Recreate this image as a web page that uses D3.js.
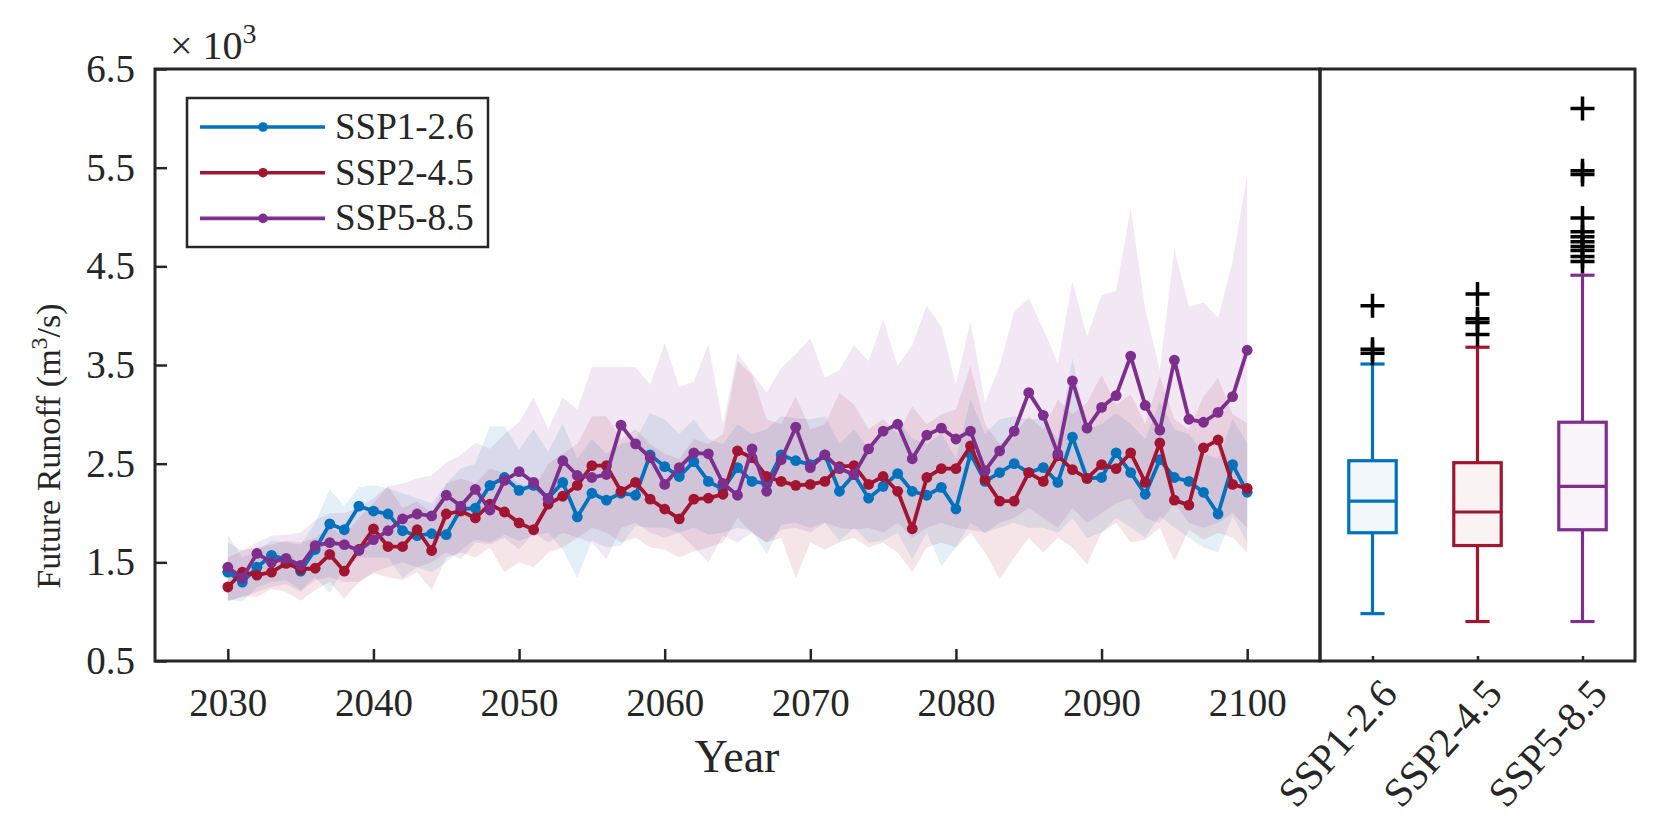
<!DOCTYPE html>
<html>
<head>
<meta charset="utf-8">
<script src="https://cdn.jsdelivr.net/npm/d3@7"></script>
<style>
  body { margin: 0; background: #fff; }
  text { font-family: "Liberation Serif", "Times New Roman", serif; fill: #262626; }
</style>
</head>
<body>
<svg id="chart" width="1656" height="834"></svg>
<script>
// ---- data (x 10^3 m3/s) ----
const years = d3.range(2030, 2101);
const seriesNames = ['SSP1-2.6', 'SSP2-4.5', 'SSP5-8.5'];
const seriesColors = ['#0072BD', '#A2142F', '#7E2F8E'];

const ssp126 = [1.40,1.30,1.45,1.57,1.53,1.41,1.63,1.89,1.83,2.07,
  2.02,1.99,1.82,1.77,1.79,1.78,2.04,2.05,2.28,2.36,
  2.23,2.28,2.15,2.31,1.96,2.20,2.13,2.20,2.18,2.59,
  2.47,2.37,2.52,2.32,2.24,2.46,2.32,2.30,2.59,2.53,
  2.49,2.59,2.22,2.39,2.15,2.27,2.40,2.22,2.18,2.26,
  2.04,2.60,2.32,2.41,2.50,2.41,2.46,2.31,2.77,2.35,
  2.36,2.61,2.41,2.19,2.54,2.36,2.32,2.21,1.99,2.49,
  2.21];
const ssp245 = [1.25,1.40,1.37,1.40,1.49,1.43,1.44,1.58,1.41,1.63,
  1.84,1.66,1.66,1.83,1.62,1.99,2.02,1.95,2.09,2.01,
  1.90,1.83,2.09,2.17,2.28,2.48,2.48,2.22,2.31,2.14,
  2.04,1.94,2.14,2.15,2.19,2.63,2.56,2.37,2.32,2.28,
  2.29,2.32,2.47,2.48,2.29,2.37,2.22,1.84,2.36,2.45,
  2.45,2.68,2.34,2.12,2.12,2.41,2.32,2.58,2.44,2.35,
  2.49,2.45,2.61,2.31,2.71,2.13,2.08,2.66,2.74,2.29,
  2.25];
const ssp585 = [1.45,1.34,1.59,1.50,1.54,1.47,1.67,1.70,1.68,1.62,
  1.73,1.82,1.94,1.99,1.97,2.18,2.07,2.24,2.03,2.33,
  2.42,2.31,2.14,2.53,2.38,2.36,2.39,2.89,2.70,2.56,
  2.29,2.46,2.61,2.60,2.30,2.18,2.65,2.22,2.54,2.87,
  2.46,2.59,2.45,2.39,2.65,2.83,2.90,2.55,2.79,2.86,
  2.75,2.83,2.43,2.63,2.83,3.22,2.99,2.60,3.34,2.86,
  3.07,3.19,3.59,3.09,2.84,3.55,2.95,2.92,3.02,3.18,
  3.65];

// shaded ranges (upper / lower)
const hi126 = [1.78,1.55,1.62,1.72,1.70,1.68,1.90,2.24,2.07,2.26,
  2.28,2.25,2.20,2.15,2.10,2.30,2.45,2.50,2.88,2.88,
  2.64,2.85,2.62,2.91,2.55,2.75,2.60,2.70,2.75,3.01,
  2.95,2.80,2.95,2.75,2.70,2.90,2.80,2.85,2.98,2.96,
  2.95,2.98,2.70,2.85,2.65,2.80,2.95,2.75,2.70,2.80,
  2.55,3.15,2.80,2.95,2.98,2.95,2.95,2.75,3.57,2.85,
  2.90,3.01,2.90,2.75,3.13,2.85,2.80,2.60,2.55,2.95,
  2.71];
const lo126 = [1.12,1.10,1.25,1.30,1.32,1.22,1.35,1.19,1.45,1.55,
  1.55,1.55,1.34,1.45,1.40,1.50,1.62,1.73,1.70,1.78,
  1.72,1.77,1.80,1.63,1.34,1.72,1.65,1.67,1.87,1.85,
  1.85,1.80,1.85,1.78,1.80,1.85,1.82,1.58,1.88,1.90,
  1.85,1.90,1.72,1.85,1.70,1.72,1.80,1.53,1.80,1.46,
  1.65,1.90,1.80,1.85,1.90,1.85,1.85,1.80,1.95,1.75,
  1.80,1.95,1.85,1.75,1.97,1.85,1.75,1.65,1.60,1.97,
  1.70];
const hi245 = [1.55,1.62,1.65,1.68,1.72,1.70,1.75,1.85,1.78,1.95,
  2.10,2.27,2.05,2.12,2.00,2.30,2.35,2.30,2.45,2.40,
  2.30,2.25,2.50,2.60,2.70,2.98,2.98,2.75,2.85,2.70,
  2.60,2.55,2.75,2.70,2.80,3.54,3.40,2.95,2.90,3.18,
  2.85,2.90,3.22,3.10,2.85,2.95,2.80,3.08,2.90,3.00,
  3.05,3.49,2.90,2.70,2.80,2.98,2.85,3.15,3.00,3.12,
  3.40,3.10,3.20,2.90,3.39,2.95,2.85,3.18,3.37,3.00,
  2.91];
const lo245 = [1.11,1.15,1.15,1.23,1.20,1.11,1.22,1.30,1.13,1.30,
  1.39,1.35,1.32,1.40,1.22,1.55,1.60,1.55,1.65,1.40,
  1.50,1.45,1.60,1.65,1.75,1.85,1.80,1.70,1.75,1.65,
  1.63,1.55,1.61,1.65,1.70,1.95,1.80,1.70,1.75,1.34,
  1.70,1.63,1.70,1.75,1.65,1.70,1.60,1.40,1.65,1.70,
  1.65,1.80,1.60,1.33,1.55,1.75,1.60,1.75,1.65,1.48,
  1.80,1.90,1.70,1.73,1.85,1.51,1.83,1.73,1.80,1.75,
  1.60];
const hi585 = [1.70,1.62,1.70,1.77,1.78,1.80,1.93,2.00,2.00,2.05,
  2.15,2.27,2.30,2.35,2.38,2.51,2.59,2.71,2.65,2.80,
  2.92,3.17,2.85,3.17,3.05,3.48,3.48,3.48,3.48,3.30,
  3.72,3.28,3.33,3.71,2.90,3.62,3.42,3.22,3.47,3.61,
  3.77,3.37,3.45,3.70,3.54,3.96,3.49,3.70,4.10,3.89,
  3.30,3.94,3.12,3.49,4.04,4.18,3.86,3.52,4.35,3.79,
  4.21,4.25,5.09,4.06,3.45,4.67,4.09,4.13,3.98,4.55,
  5.43];
const lo585 = [1.10,1.15,1.20,1.25,1.28,1.20,1.32,1.35,1.30,1.30,
  1.40,1.45,1.50,1.45,1.50,1.60,1.53,1.70,1.68,1.75,
  1.63,1.80,1.70,1.80,1.75,1.70,1.53,1.85,1.90,1.80,
  1.75,1.80,1.65,1.50,1.77,1.70,1.80,1.70,1.83,1.85,
  1.80,1.90,1.85,1.83,1.85,1.80,1.90,1.75,1.85,1.90,
  1.85,1.83,1.80,1.90,1.95,2.05,1.95,1.85,2.05,1.90,
  2.00,2.10,2.15,1.95,1.90,2.10,1.90,1.85,1.90,2.00,
  1.85];

// box plot statistics per scenario
const boxQ1 = [1.80, 1.67, 1.83];
const boxMed = [2.12, 2.01, 2.27];
const boxQ3 = [2.53, 2.51, 2.92];
const whiskLo = [0.98, 0.90, 0.90];
const whiskHi = [3.51, 3.68, 4.41];
const outliers = [
  [3.62, 3.66, 4.10],
  [3.81, 3.93, 3.97, 4.22],
  [4.55, 4.60, 4.66, 4.70, 4.75, 4.80, 4.85, 4.99, 5.43, 5.47, 6.10]
];

// ticks
const xTicks = [2030, 2040, 2050, 2060, 2070, 2080, 2090, 2100];
const yTicks = [0.5, 1.5, 2.5, 3.5, 4.5, 5.5, 6.5];

// ---- drawing ----
const lines = [ssp126, ssp245, ssp585];
const his = [hi126, hi245, hi585];
const los = [lo126, lo245, lo585];
const ink = '#262626';

const svg = d3.select('#chart');

const xScale = d3.scaleLinear().domain([2025, 2105]).range([155, 1320]);
const yScale = d3.scaleLinear().domain([0.5, 6.5]).range([661, 69]);
const bScale = d3.scaleLinear().domain([0.5, 3.5]).range([1320, 1635]);

// bands
const area = d3.area()
  .x((d, i) => xScale(years[i]))
  .y0(d => yScale(d[0]))
  .y1(d => yScale(d[1]));

const bands = svg.append('g');
lines.forEach((s, k) => {
  const pts = years.map((y, i) => [los[k][i], his[k][i]]);
  bands.append('path')
    .attr('d', area(pts))
    .attr('fill', seriesColors[k])
    .attr('fill-opacity', 0.11);
});

// lines + markers
const line = d3.line()
  .x((d, i) => xScale(years[i]))
  .y(d => yScale(d));

lines.forEach((s, k) => {
  const g = svg.append('g');
  g.append('path')
    .attr('d', line(s))
    .attr('fill', 'none')
    .attr('stroke', seriesColors[k])
    .attr('stroke-width', 3.8)
    .attr('stroke-linejoin', 'round');
  g.selectAll('circle')
    .data(s)
    .enter()
    .append('circle')
    .attr('cx', (d, i) => xScale(years[i]))
    .attr('cy', d => yScale(d))
    .attr('r', 5.4)
    .attr('fill', seriesColors[k]);
});

// box plots
const bw = 0.226, cw = 0.115;
const boxes = svg.append('g');
seriesNames.forEach((n, k) => {
  const c = seriesColors[k];
  const cx = bScale(k + 1);
  const g = boxes.append('g').attr('stroke', c).attr('stroke-width', 3.2);
  g.append('line')
    .attr('x1', cx).attr('x2', cx)
    .attr('y1', yScale(boxQ3[k])).attr('y2', yScale(whiskHi[k]));
  g.append('line')
    .attr('x1', cx).attr('x2', cx)
    .attr('y1', yScale(boxQ1[k])).attr('y2', yScale(whiskLo[k]));
  [whiskHi[k], whiskLo[k]].forEach(v => {
    g.append('line')
      .attr('x1', bScale(k + 1 - cw)).attr('x2', bScale(k + 1 + cw))
      .attr('y1', yScale(v)).attr('y2', yScale(v));
  });
  g.append('rect')
    .attr('x', bScale(k + 1 - bw))
    .attr('y', yScale(boxQ3[k]))
    .attr('width', bScale(k + 1 + bw) - bScale(k + 1 - bw))
    .attr('height', yScale(boxQ1[k]) - yScale(boxQ3[k]))
    .attr('fill', c).attr('fill-opacity', 0.05);
  g.append('line')
    .attr('x1', bScale(k + 1 - bw)).attr('x2', bScale(k + 1 + bw))
    .attr('y1', yScale(boxMed[k])).attr('y2', yScale(boxMed[k]));
  boxes.selectAll(null)
    .data(outliers[k])
    .enter()
    .append('path')
    .attr('d', 'M-12,0H12M0,-12V12')
    .attr('transform', d => 'translate(' + cx + ',' + yScale(d) + ')')
    .attr('stroke', '#000')
    .attr('stroke-width', 3.5);
});

// axes
const xAxis = svg.append('g')
  .attr('transform', 'translate(0,661)')
  .call(d3.axisBottom(xScale).tickValues(xTicks).tickFormat(d3.format('d'))
    .tickSizeInner(-12).tickSizeOuter(0).tickPadding(27));
const yAxis = svg.append('g')
  .attr('transform', 'translate(155,0)')
  .call(d3.axisLeft(yScale).tickValues(yTicks).tickFormat(d3.format('.1f'))
    .tickSizeInner(-12).tickSizeOuter(0).tickPadding(20));
const bAxis = svg.append('g')
  .attr('transform', 'translate(0,661)')
  .call(d3.axisBottom(bScale).tickValues([1, 2, 3]).tickFormat((d, i) => seriesNames[i])
    .tickSizeInner(-5).tickSizeOuter(0).tickPadding(10));

[xAxis, yAxis, bAxis].forEach(a => {
  a.select('.domain').remove();
  a.selectAll('line').attr('stroke', ink).attr('stroke-width', 2.5);
  a.selectAll('text').attr('font-size', 39).attr('font-family', null).attr('fill', ink);
});
bAxis.selectAll('text')
  .attr('font-size', 41)
  .attr('text-anchor', 'end')
  .attr('dy', '0.35em')
  .attr('transform', 'translate(8,18) rotate(-48)');

// frames
svg.append('rect')
  .attr('x', 155).attr('y', 69).attr('width', 1165).attr('height', 592)
  .attr('fill', 'none').attr('stroke', ink).attr('stroke-width', 3);
svg.append('rect')
  .attr('x', 1320).attr('y', 69).attr('width', 315).attr('height', 592)
  .attr('fill', 'none').attr('stroke', ink).attr('stroke-width', 3);

// labels
svg.append('text')
  .attr('x', 737).attr('y', 772)
  .attr('text-anchor', 'middle')
  .attr('font-size', 46)
  .text('Year');

const yl = svg.append('text')
  .attr('transform', 'translate(60,446) rotate(-90)')
  .attr('text-anchor', 'middle')
  .attr('font-size', 34);
yl.append('tspan').text('Future Runoff (m');
yl.append('tspan').attr('dy', -13).attr('font-size', 24).text('3');
yl.append('tspan').attr('dy', 13).text('/s)');

const ex = svg.append('text')
  .attr('x', 170).attr('y', 59)
  .attr('font-size', 40);
ex.append('tspan').text('\u00d7 10');
ex.append('tspan').attr('dy', -16).attr('font-size', 28).text('3');

// legend
const legend = svg.append('g');
legend.append('rect')
  .attr('x', 187).attr('y', 98).attr('width', 301).attr('height', 149)
  .attr('fill', '#fff').attr('stroke', ink).attr('stroke-width', 2.5);
seriesNames.forEach((n, k) => {
  const ly = 127 + k * 45.7;
  legend.append('line')
    .attr('x1', 200).attr('x2', 325).attr('y1', ly).attr('y2', ly)
    .attr('stroke', seriesColors[k]).attr('stroke-width', 3.6);
  legend.append('circle')
    .attr('cx', 263).attr('cy', ly).attr('r', 4.8)
    .attr('fill', seriesColors[k]);
  legend.append('text')
    .attr('x', 335).attr('y', ly + 12)
    .attr('font-size', 37)
    .text(n);
});
</script>
</body>
</html>
